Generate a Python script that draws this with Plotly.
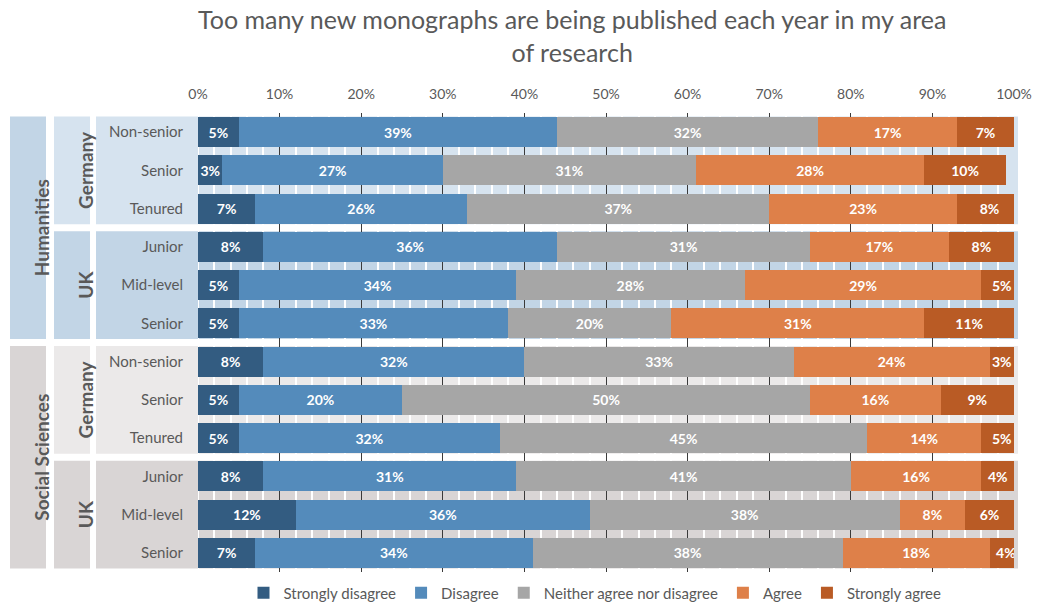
import plotly.graph_objects as go

# ---- data -------------------------------------------------------------
title_text = "Too many new monographs are being published each year in my area<br>of research"

row_labels = ["Non-senior", "Senior", "Tenured", "Junior", "Mid-level", "Senior",
              "Non-senior", "Senior", "Tenured", "Junior", "Mid-level", "Senior"]
row_discipline = ["Humanities"] * 6 + ["Social Sciences"] * 6
row_country = ["Germany"] * 3 + ["UK"] * 3 + ["Germany"] * 3 + ["UK"] * 3

series_names = ["Strongly disagree", "Disagree", "Neither agree nor disagree",
                "Agree", "Strongly agree"]
strongly_disagree = [5, 3, 7, 8, 5, 5, 8, 5, 5, 8, 12, 7]
disagree = [39, 27, 26, 36, 34, 33, 32, 20, 32, 31, 36, 34]
neither = [32, 31, 37, 31, 28, 20, 33, 50, 45, 41, 38, 38]
agree = [17, 28, 23, 17, 29, 31, 24, 16, 14, 16, 8, 18]
strongly_agree = [7, 10, 8, 8, 5, 11, 3, 9, 5, 4, 6, 4]

# ---- styling ----------------------------------------------------------
FONT = "Lato"
GREY_TEXT = "#595959"
series_colors = ["#335C81", "#548BBB", "#A6A6A6", "#DE8049", "#B95B25"]
band_colors = {
    ("Humanities", "Germany"): "#D6E3EF",
    ("Humanities", "UK"): "#C2D5E6",
    ("Social Sciences", "Germany"): "#EBE9E9",
    ("Social Sciences", "UK"): "#D9D5D5",
}
discipline_colors = {"Humanities": "#C2D5E6", "Social Sciences": "#D9D5D5"}

W, H = 1037, 606
M_L, M_R, M_T, M_B = 198, 23, 113, 34
PLOT_W = W - M_L - M_R
PLOT_H = H - M_T - M_B


def px(x_pixel):
    """Horizontal pixel position -> paper coordinate of the plot area."""
    return (x_pixel - M_L) / PLOT_W


def py(y_pixel):
    """Vertical pixel position (from top) -> paper coordinate."""
    return 1 - (y_pixel - M_T) / PLOT_H


def runs(keys):
    """Consecutive runs of equal keys as (key, first_index, last_index)."""
    out = []
    start = 0
    for i in range(1, len(keys) + 1):
        if i == len(keys) or keys[i] != keys[start]:
            out.append((keys[start], start, i - 1))
            start = i
    return out


rows = list(range(len(row_labels)))
series_values = [strongly_disagree, disagree, neither, agree, strongly_agree]

fig = go.Figure()
for name, vals, color in zip(series_names, series_values, series_colors):
    fig.add_trace(go.Bar(
        y=rows, x=vals, name=name, orientation="h",
        marker=dict(color=color, line=dict(width=0)),
        width=0.79,
        text=[f"{v}%" for v in vals],
        texttemplate="%{text}",
        textposition="inside", insidetextanchor="middle", textangle=0,
        textfont=dict(family=FONT, size=14, color="white", weight="bold"),
        hoverinfo="skip",
    ))

shapes = []
annotations = []
PAD = 0.41

# row bands (label column + plot area), one per discipline/country group
for (disc, ctry), a, b in runs(list(zip(row_discipline, row_country))):
    col = band_colors[(disc, ctry)]
    shapes.append(dict(type="rect", layer="below", xref="paper", yref="y",
                       x0=px(96), x1=px(1018), y0=a - PAD, y1=b + PAD,
                       fillcolor=col, line=dict(width=0)))
    shapes.append(dict(type="rect", layer="below", xref="paper", yref="y",
                       x0=px(54), x1=px(90), y0=a - PAD, y1=b + PAD,
                       fillcolor=col, line=dict(width=0)))
    annotations.append(dict(xref="paper", yref="y", x=px(72), y=(a + b) / 2,
                            text=f"<b>{ctry}</b>", textangle=-90, showarrow=False,
                            font=dict(family=FONT, size=19, color=GREY_TEXT)))

# discipline boxes
for disc, a, b in runs(row_discipline):
    shapes.append(dict(type="rect", layer="below", xref="paper", yref="y",
                       x0=px(10), x1=px(46), y0=a - PAD, y1=b + PAD,
                       fillcolor=discipline_colors[disc], line=dict(width=0)))
    annotations.append(dict(xref="paper", yref="y", x=px(28), y=(a + b) / 2,
                            text=f"<b>{disc}</b>", textangle=-90, showarrow=False,
                            font=dict(family=FONT, size=19, color=GREY_TEXT)))

# chart title
annotations.append(dict(xref="paper", yref="paper", x=px(572), y=py(2),
                        xanchor="center", yanchor="top", showarrow=False,
                        text=title_text,
                        font=dict(family=FONT, size=25, color=GREY_TEXT)))

fig.update_layout(
    width=W, height=H,
    margin=dict(l=M_L, r=M_R, t=M_T, b=M_B, autoexpand=False),
    paper_bgcolor="white", plot_bgcolor="white",
    barmode="stack", bargap=0.2,
    font=dict(family=FONT, color=GREY_TEXT),
    shapes=shapes, annotations=annotations,
    uniformtext=dict(minsize=14, mode="show"),
    legend=dict(orientation="h", x=595 / W, xanchor="center", xref="container",
                y=(H - 593) / H, yanchor="middle", yref="container",
                traceorder="normal",
                font=dict(family=FONT, size=15, color=GREY_TEXT),
                itemwidth=30, bgcolor="rgba(0,0,0,0)"),
    showlegend=True,
)

fig.update_xaxes(
    range=[0, 100], side="top", dtick=10, ticksuffix="%",
    showgrid=True, gridcolor="#3A3A3A", gridwidth=1,
    minor=dict(dtick=2, showgrid=True, gridcolor="white", gridwidth=1.5),
    zeroline=True, zerolinecolor="white", zerolinewidth=1,
    ticks="", ticklabelstandoff=10, showline=False, automargin=False,
    tickfont=dict(family=FONT, size=14, color=GREY_TEXT),
)
fig.update_yaxes(
    range=[len(rows) - 0.5, -0.5], tickvals=rows, ticktext=row_labels,
    showgrid=False, zeroline=False, ticks="", showline=False, automargin=False,
    ticklabelstandoff=14,
    tickfont=dict(family=FONT, size=15, color=GREY_TEXT),
)

fig.write_html("out.html")
